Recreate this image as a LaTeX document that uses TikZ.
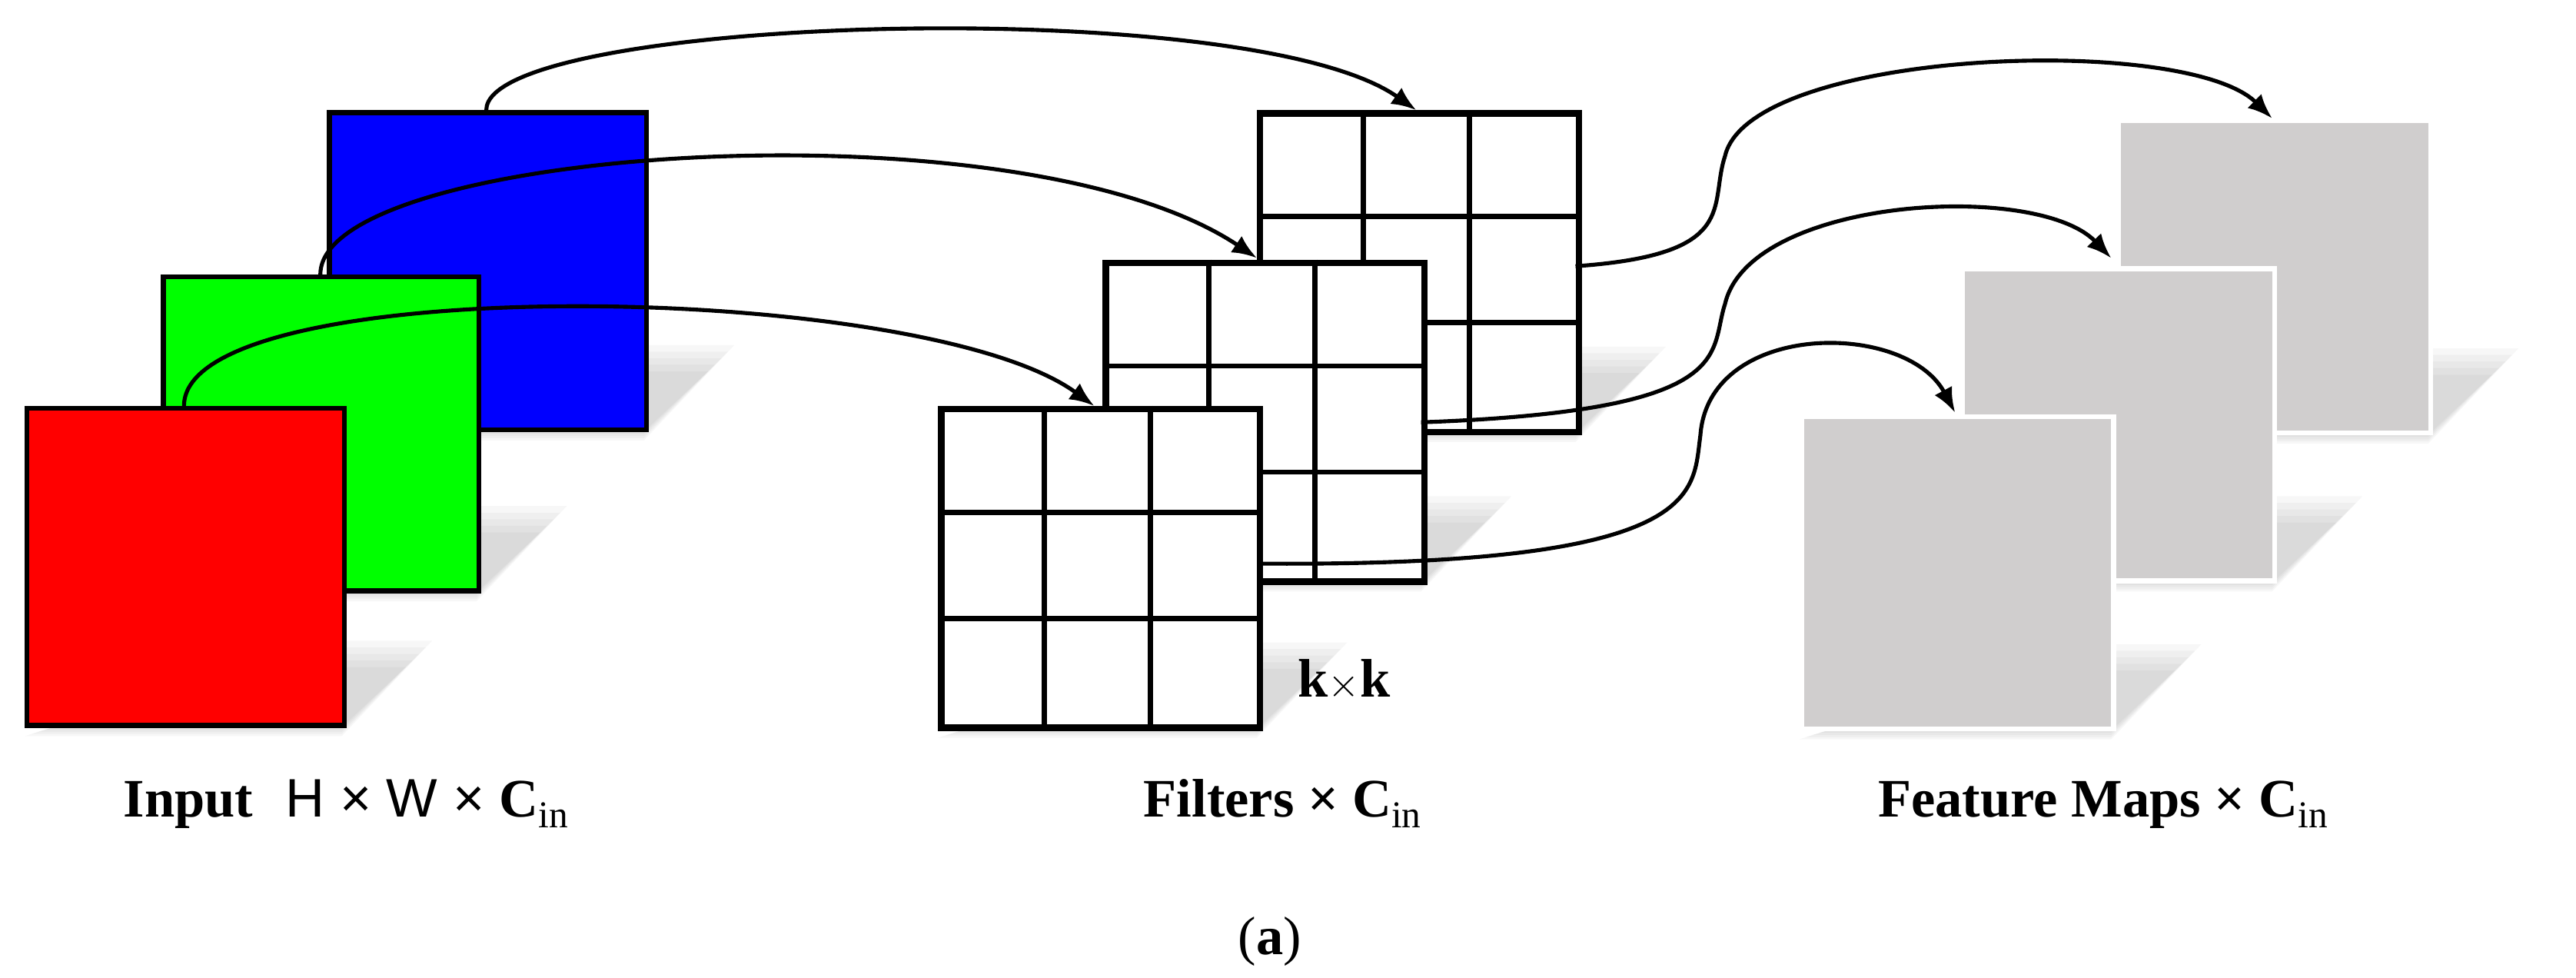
\documentclass[tikz,border=0pt]{standalone}
\usetikzlibrary{arrows.meta}
\usepackage{fontspec}
\setmainfont{Liberation Serif}
\newfontfamily\hsans{Liberation Sans}
\begin{document}
\begin{tikzpicture}[x=1pt,y=-1pt,
  card/.style={draw=black,line width=3pt},
  gridline/.style={line width=3.2pt},
  conn/.style={line width=2.4pt,-{Latex[length=15pt,width=12pt]}},
  lbl/.style={font=\bfseries\fontsize{33}{36}\selectfont,anchor=base west,inner sep=0pt}]
\useasboundingbox (0,0) rectangle (1568,595);
\newcommand{\shad}[4]{%
  \foreach \k in {0,4,8,12,16}{
    \fill[black,opacity=0.03] (#1+\k,#4+8-\k/3) -- (#3,#4+8-\k/3) -- (#3+55-\k,#4-50+\k) -- (#3-10,#4-50+\k) -- cycle;}}
% input cards
\shad{199}{67}{392}{260}
\node[card,fill=blue,minimum width=193pt,minimum height=193pt,anchor=north west,inner sep=0pt] (B) at (199,67) {};
\shad{98}{167}{290}{358}
\node[card,fill={rgb,255:red,0;green,255;blue,0},minimum width=192pt,minimum height=191pt,anchor=north west,inner sep=0pt] (G) at (98,167) {};
\shad{15}{247}{208}{440}
\node[card,fill=red,minimum width=193pt,minimum height=193pt,anchor=north west,inner sep=0pt] (R) at (15,247) {};
% filters
\newcommand{\filt}[3]{%
  \shad{#1}{#2}{#1+194}{#2+194}
  \node[card,fill=white,line width=4pt,minimum width=194pt,minimum height=194pt,anchor=north west,inner sep=0pt] (#3) at (#1,#2) {};
  \draw[gridline] (#1+64.7,#2) -- (#1+64.7,#2+194) (#1+129.3,#2) -- (#1+129.3,#2+194)
    (#1,#2+64.7) -- (#1+194,#2+64.7) (#1,#2+129.3) -- (#1+194,#2+129.3);}
\filt{765}{67}{F3}
\filt{671}{158}{F2}
\filt{571}{247}{F1}
% feature maps
\newcommand{\fmap}[3]{%
  \shad{#1}{#2}{#1+190}{#2+190}
  \node[draw=white,line width=3pt,fill={rgb,255:red,208;green,206;blue,206},minimum width=190pt,minimum height=190pt,anchor=north west,inner sep=0pt] (#3) at (#1,#2) {};}
\fmap{1288}{72}{M3}
\fmap{1193}{162}{M2}
\fmap{1095}{252}{M1}
% connectors
\coordinate (b0) at (296,67); \coordinate (b1) at (862,67);
\coordinate (g0) at (195,167); \coordinate (g1) at (765,157);
\coordinate (r0) at (112,247); \coordinate (r1) at (666,247);
\draw[conn] (b0) .. controls (296,10) and (760,-5) .. (b1);
\draw[conn] (g0) .. controls (195,90) and (620,60) .. (g1);
\draw[conn] (r0) .. controls (112,165) and (560,170) .. (r1);
\coordinate (f3) at (959,162); \coordinate (m3) at (1383,72);
\coordinate (f2) at (865,257); \coordinate (m2) at (1285,157);
\coordinate (f1) at (766,343); \coordinate (m1) at (1190,251);
\draw[conn] (f3) .. controls (1060,155) and (1040,125) .. (1050,95) .. controls (1065,30) and (1330,20) .. (m3);
\draw[conn] (f2) .. controls (1060,250) and (1040,215) .. (1050,185) .. controls (1065,120) and (1240,110) .. (m2);
\draw[conn] (f1) .. controls (1040,345) and (1030,300) .. (1035,265) .. controls (1040,195) and (1160,195) .. (m1);
% labels
\node[font=\bfseries\fontsize{33}{36}\selectfont,anchor=base west,inner sep=0pt] (kk) at (790,424) {k$\times$k};
\node[lbl] (lin) at (75,497) {Input\hspace{0.6em}{\hsans\mdseries H × W × }C\textsubscript{\mdseries in}};
\node[lbl] (lf) at (696,497) {Filters × C\textsubscript{\mdseries in}};
\node[lbl] (lm) at (1143,497) {Feature Maps × C\textsubscript{\mdseries in}};
\node[font=\fontsize{33}{36}\selectfont,inner sep=0pt] (cap) at (773,573) {(\textbf{a})};
\end{tikzpicture}
\end{document}
